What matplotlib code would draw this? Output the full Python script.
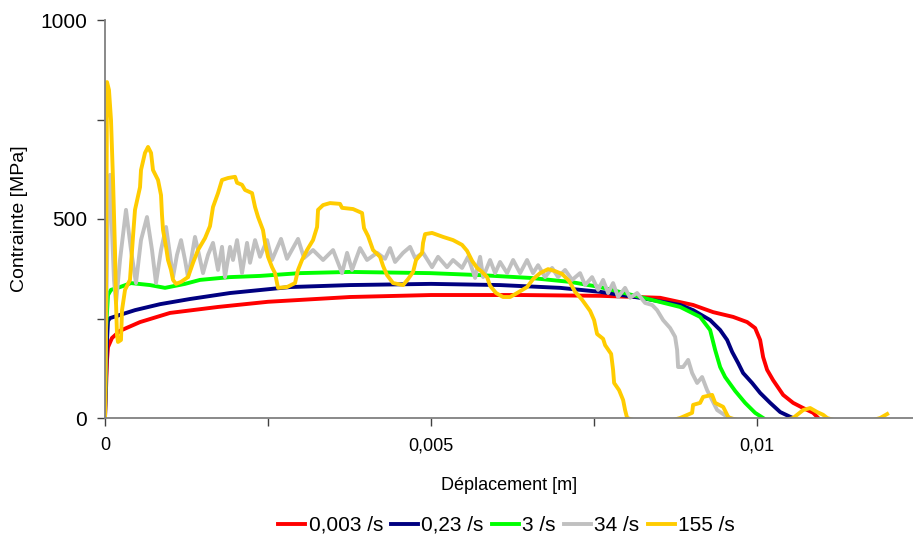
import numpy as np
import matplotlib
matplotlib.use('Agg')
import matplotlib.pyplot as plt
from matplotlib.ticker import FixedLocator, FuncFormatter

plt.rcParams['font.family'] = ['Liberation Sans', 'DejaVu Sans']

# deplacement en mm, contrainte en MPa
d_003 = [0, 0.015, 0.031, 0.046, 0.107, 0.23, 0.537, 0.997, 1.733, 2.5, 3.758, 5.0, 6.365,
         7.592, 8.512, 9.018, 9.325, 9.632, 9.847, 9.969, 10.046, 10.092, 10.153, 10.245,
         10.399, 10.552, 10.706, 10.859, 10.936]
s_003 = [0, 70, 146, 178, 201, 219, 241, 264, 279, 292, 304, 309, 309,
         307, 302, 284, 266, 254, 241, 226, 196, 153, 121, 95,
         58, 38, 25, 13, 0]

d_023 = [0, 0.015, 0.031, 0.046, 0.077, 0.23, 0.46, 0.844, 1.304, 1.917, 2.837, 3.758, 5.0,
         6.058, 6.979, 7.592, 8.206, 8.819, 9.018, 9.279, 9.433, 9.54, 9.617, 9.709, 9.785,
         9.923, 10.046, 10.2, 10.353, 10.506, 10.552]
s_023 = [0, 95, 196, 244, 251, 259, 271, 286, 299, 314, 329, 334, 337,
         334, 327, 317, 302, 284, 271, 246, 221, 196, 166, 138, 113,
         88, 63, 38, 15, 3, 0]

d_3 = [0, 0.015, 0.046, 0.092, 0.23, 0.399, 0.69, 0.92, 1.227, 1.457, 1.917, 2.377, 2.991,
       3.758, 4.985, 5.752, 6.518, 7.132, 7.592, 8.206, 8.819, 9.126, 9.279, 9.356, 9.433,
       9.509, 9.663, 9.816, 9.969, 10.092]
s_3 = [0, 221, 309, 322, 329, 339, 334, 327, 337, 347, 354, 357, 364,
       367, 364, 359, 352, 342, 329, 304, 279, 254, 221, 171, 128,
       103, 68, 38, 13, 0]

d_34 = [0.0, 0.015, 0.046, 0.077, 0.107, 0.138, 0.169, 0.23, 0.322, 0.399, 0.475, 0.552,
        0.644, 0.721, 0.782, 0.859, 0.936, 0.997, 1.043, 1.104, 1.166, 1.227, 1.273, 1.334,
        1.38, 1.442, 1.503, 1.58, 1.656, 1.733, 1.794, 1.84, 1.917, 1.963, 2.025, 2.101,
        2.178, 2.224, 2.301, 2.377, 2.485, 2.561, 2.699, 2.791, 2.96, 3.052, 3.19, 3.344,
        3.497, 3.635, 3.712, 3.788, 3.911, 4.018, 4.172, 4.294, 4.371, 4.448, 4.571, 4.678,
        4.755, 4.877, 5.015, 5.107, 5.245, 5.337, 5.475, 5.567, 5.675, 5.752, 5.798, 5.905,
        5.982, 6.058, 6.166, 6.258, 6.365, 6.472, 6.564, 6.641, 6.748, 6.856, 6.948, 7.055,
        7.163, 7.285, 7.362, 7.469, 7.561, 7.638, 7.715, 7.791, 7.868, 7.975, 8.052, 8.16,
        8.282, 8.39, 8.466, 8.558, 8.666, 8.742, 8.773, 8.788, 8.865, 8.942, 9.003, 9.08,
        9.156, 9.233, 9.31, 9.387, 9.54, 9.586]
s_34 = [0, 221, 548, 611, 472, 347, 289, 397, 523, 422, 339, 447,
        505, 422, 339, 422, 480, 410, 354, 410, 447, 397, 354, 410,
        455, 410, 364, 410, 440, 372, 430, 354, 430, 397, 447, 364,
        440, 390, 447, 405, 447, 397, 450, 400, 450, 402, 422, 397,
        422, 364, 415, 372, 427, 397, 415, 400, 427, 392, 415, 430,
        402, 415, 379, 405, 379, 397, 377, 405, 352, 405, 354, 397,
        364, 392, 364, 397, 364, 397, 364, 384, 354, 377, 354, 372,
        347, 364, 334, 354, 322, 347, 314, 339, 304, 327, 302, 314,
        289, 284, 271, 246, 226, 204, 171, 128, 128, 146, 113, 88,
        103, 70, 45, 20, 3, 0]

d_155 = [0.0, 0.015, 0.031, 0.061, 0.092, 0.123, 0.153, 0.169, 0.184, 0.199, 0.245, 0.261,
         0.307, 0.383, 0.429, 0.46, 0.537, 0.552, 0.613, 0.66, 0.706, 0.736, 0.813, 0.859,
         0.874, 0.89, 0.936, 0.966, 1.012, 1.043, 1.089, 1.166, 1.273, 1.35, 1.426, 1.534,
         1.61, 1.656, 1.733, 1.794, 1.887, 1.994, 2.025, 2.101, 2.147, 2.255, 2.301, 2.347,
         2.423, 2.454, 2.5, 2.561, 2.607, 2.638, 2.653, 2.791, 2.914, 2.96, 3.021, 3.098,
         3.19, 3.252, 3.267, 3.344, 3.451, 3.604, 3.635, 3.804, 3.942, 3.972, 4.034, 4.11,
         4.218, 4.264, 4.325, 4.417, 4.571, 4.647, 4.724, 4.77, 4.862, 4.877, 4.908, 5.015,
         5.184, 5.337, 5.475, 5.552, 5.629, 5.706, 5.782, 5.859, 5.905, 5.997, 6.104, 6.212,
         6.319, 6.472, 6.564, 6.672, 6.794, 6.902, 7.009, 7.117, 7.209, 7.316, 7.439, 7.5,
         7.546, 7.638, 7.669, 7.761, 7.791, 7.807, 7.883, 7.945, 7.975, 8.006, 8.39, 8.819,
         9.003, 9.018, 9.126, 9.172, 9.31, 9.356, 9.479, 9.555, 9.586, 10.046, 10.552, 10.613,
         10.706, 10.813, 10.92, 11.012, 11.074, 11.47, 11.887, 11.994]
s_155 = [0, 297, 844, 824, 749, 598, 422, 289, 209, 191, 196, 271,
         322, 347, 455, 523, 580, 623, 666, 681, 666, 623, 598, 560,
         510, 472, 430, 397, 372, 347, 337, 342, 354, 390, 422, 452,
         482, 530, 565, 598, 603, 606, 591, 586, 573, 565, 530, 505,
         472, 440, 405, 379, 364, 339, 327, 329, 339, 372, 397, 422,
         447, 480, 523, 535, 540, 538, 528, 525, 515, 477, 457, 422,
         405, 382, 359, 339, 334, 349, 367, 397, 415, 440, 462, 465,
         455, 447, 435, 420, 395, 377, 367, 354, 332, 314, 304, 304,
         314, 329, 349, 364, 374, 369, 362, 344, 317, 297, 269, 246,
         211, 199, 183, 161, 121, 88, 70, 45, 20, 0, -20, 0,
         13, 33, 38, 53, 58, 38, 28, 3, 0, -20, 0, 8,
         20, 25, 15, 8, 0, -20, 0, 10]

series = [(d_003, s_003, '#ff0000', '0,003 /s'),
          (d_023, s_023, '#000080', '0,23 /s'),
          (d_3, s_3, '#00ff00', '3 /s'),
          (d_34, s_34, '#c0c0c0', '34 /s'),
          (d_155, s_155, '#ffcc00', '155 /s')]

fig = plt.figure(figsize=(9.13, 5.4), dpi=100)
ax = fig.add_axes([105/913, 122/540, 808/913, 398/540])

for d, s, c, lab in series:
    ax.plot(np.array(d) / 1000.0, s, color=c, lw=2.8, label=lab, solid_joinstyle='round')

ax.set_xlim(0, 0.01239)
ax.set_ylim(0, 1000)

ax.spines['top'].set_visible(False)
ax.spines['right'].set_visible(False)
for sp in ['left', 'bottom']:
    ax.spines[sp].set_color('#808080')
    ax.spines[sp].set_linewidth(1.3)

ax.xaxis.set_major_locator(FixedLocator([0, 0.005, 0.01]))
ax.xaxis.set_minor_locator(FixedLocator([0.0025, 0.0075]))
ax.yaxis.set_major_locator(FixedLocator([0, 500, 1000]))
ax.yaxis.set_minor_locator(FixedLocator([250, 750]))
ax.xaxis.set_major_formatter(FuncFormatter(lambda v, p: ('%g' % v).replace('.', ',')))
ax.tick_params(which='both', direction='out', length=6, width=1, color='#404040',
               labelsize=13, pad=8)
ax.tick_params(axis='y', labelsize=15, pad=7)

ax.set_xlabel('Déplacement [m]', fontsize=13, labelpad=16)
ax.set_ylabel('Contrainte [MPa]', fontsize=14, labelpad=9)

ax.legend(loc='center', bbox_to_anchor=(0.497, -0.27), ncol=5, frameon=False,
          fontsize=15, handlelength=1.3, handletextpad=0.15, columnspacing=0.4,
          borderaxespad=0)

fig.savefig('out.png', dpi=100)
